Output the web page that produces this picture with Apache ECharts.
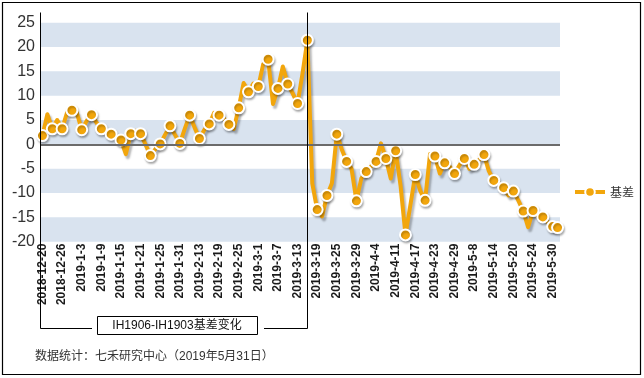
<!DOCTYPE html>
<html>
<head>
<meta charset="utf-8">
<script src="https://cdn.jsdelivr.net/npm/echarts@6/dist/echarts.min.js"></script>
<style>
html,body{margin:0;padding:0;background:#fff;}
#c{width:644px;height:378px;}
</style>
</head>
<body>
<div id="c"></div>
<script>
// Trading days (categories)
const categories = [
 '2018-12-20','2018-12-21','2018-12-24','2018-12-25','2018-12-26','2018-12-27','2018-12-28',
 '2019-1-2','2019-1-3','2019-1-4','2019-1-7','2019-1-8','2019-1-9','2019-1-10','2019-1-11','2019-1-14','2019-1-15','2019-1-16','2019-1-17','2019-1-18','2019-1-21','2019-1-22','2019-1-23','2019-1-24','2019-1-25','2019-1-28','2019-1-29','2019-1-30','2019-1-31',
 '2019-2-1','2019-2-11','2019-2-12','2019-2-13','2019-2-14','2019-2-15','2019-2-18','2019-2-19','2019-2-20','2019-2-21','2019-2-22','2019-2-25','2019-2-26','2019-2-27','2019-2-28',
 '2019-3-1','2019-3-4','2019-3-5','2019-3-6','2019-3-7','2019-3-8','2019-3-11','2019-3-12','2019-3-13','2019-3-14','2019-3-15','2019-3-18','2019-3-19','2019-3-20','2019-3-21','2019-3-22','2019-3-25','2019-3-26','2019-3-27','2019-3-28','2019-3-29',
 '2019-4-1','2019-4-2','2019-4-3','2019-4-4','2019-4-8','2019-4-9','2019-4-10','2019-4-11','2019-4-12','2019-4-15','2019-4-16','2019-4-17','2019-4-18','2019-4-19','2019-4-22','2019-4-23','2019-4-24','2019-4-25','2019-4-26','2019-4-29','2019-4-30',
 '2019-5-6','2019-5-7','2019-5-8','2019-5-9','2019-5-10','2019-5-13','2019-5-14','2019-5-15','2019-5-16','2019-5-17','2019-5-20','2019-5-21','2019-5-22','2019-5-23','2019-5-24','2019-5-27','2019-5-28','2019-5-29','2019-5-30','2019-5-31'
];
// 基差 (IH1906 - IH1903)
const basis = [
 1.8, 6.2, 3.2, 5.0, 3.2, 6.5, 7.0, 6.5, 3.0, 4.8,
 6.1, 4.5, 3.2, 2.8, 2.1, 1.5, 0.9, -2.0, 2.2, 2.8,
 2.2, 0.0, -2.3, -1.0, 0.1, 2.0, 3.8, 2.0, 0.2, 3.2,
 6.0, 3.5, 1.2, 3.0, 4.2, 6.5, 6.0, 5.3, 4.1, 3.2,
 7.5, 12.6, 10.8, 12.5, 11.9, 16.5, 17.5, 8.3, 11.5, 16.0,
 12.4, 10.5, 8.4, 14.5, 21.4, -8.0, -13.4, -14.8, -10.5, -8.0,
 2.1, -1.0, -3.5, -5.0, -11.6, -7.0, -5.6, -4.5, -3.5, 0.2,
 -2.9, -7.0, -1.3, -8.5, -18.6, -12.5, -6.2, -9.5, -11.5, -2.0,
 -2.4, -6.0, -3.8, -4.5, -6.0, -4.3, -2.9, -5.0, -4.1, -3.2,
 -2.1, -5.5, -7.4, -8.0, -8.9, -10.5, -9.6, -11.5, -13.7, -17.0,
 -13.6, -14.8, -14.9, -16.0, -16.9, -17.1
];
const seriesName = '基差';
const yTicks = { min: -20, max: 25, step: 5 };
const bracketTitle = 'IH1906-IH1903基差变化';
const sourceNote = '数据统计：七禾研究中心（2019年5月31日）';
const bracketEndDate = '2019-3-15';

const FONT = '"Liberation Sans", Arial, "Noto Sans CJK SC", sans-serif';
const ORANGE = '#f2a60c';

const chart = echarts.init(document.getElementById('c'), null, {renderer: 'canvas'});
const lastIdx = basis.length - 1;

chart.setOption({
  animation: false,
  backgroundColor: '#ffffff',
  textStyle: { fontFamily: FONT },
  grid: { left: 40, right: 84, top: 22.7, bottom: 136.3, containLabel: false },
  legend: {
    data: [seriesName],
    left: 568, top: 181,
    itemWidth: 30, itemHeight: 12, itemGap: 8,
    lineStyle: { width: 4, color: ORANGE },
    itemStyle: { color: ORANGE, borderColor: '#fff', borderWidth: 2 },
    textStyle: { fontSize: 12, color: '#333', fontFamily: '"Noto Sans CJK SC", sans-serif' }
  },
  xAxis: {
    type: 'category',
    data: categories,
    boundaryGap: true,
    axisLine: { show: false },
    axisTick: { show: false },
    axisLabel: {
      interval: 3, rotate: 90, margin: 2,
      fontSize: 12, fontWeight: 'bold', color: '#1a1a1a', fontFamily: FONT
    },
    splitLine: { show: false }
  },
  yAxis: {
    type: 'value',
    min: yTicks.min, max: yTicks.max, interval: yTicks.step,
    axisLine: { show: true, lineStyle: { color: '#000', width: 1 } },
    axisTick: { show: false },
    axisLabel: { fontSize: 16, color: '#333', margin: 5, fontFamily: FONT },
    splitLine: { show: false },
    splitArea: { show: true, areaStyle: { color: ['#d9e3ef', 'rgba(255,255,255,0)'] } }
  },
  series: [
    {
      name: '_zero', type: 'line', data: [], z: 1, silent: true,
      markLine: {
        silent: true, symbol: 'none', label: { show: false },
        lineStyle: { color: '#6b6b6b', width: 2, type: 'solid' },
        data: [{ yAxis: 0 }]
      }
    },
    {
      name: seriesName, type: 'line', data: basis, z: 3,
      showAllSymbol: true,
      symbol: 'circle',
      symbolSize: function (v, p) { return (p.dataIndex % 2 === 0 || p.dataIndex === lastIdx) ? 11 : 0; },
      lineStyle: { color: ORANGE, width: 4, shadowColor: 'rgba(0,0,0,0.28)', shadowBlur: 2, shadowOffsetX: 2, shadowOffsetY: 3, join: 'round' },
      itemStyle: { color: ORANGE, borderColor: '#fff', borderWidth: 2, shadowColor: 'rgba(0,0,0,0.25)', shadowBlur: 2, shadowOffsetX: 1, shadowOffsetY: 2 },
      emphasis: { disabled: true }
    }
  ]
});

// annotation bracket placed via the axis scale
const xEnd = Math.round(chart.convertToPixel({ xAxisIndex: 0 }, bracketEndDate)) + 0.5;
const xStart = 40.5;
const yTop = 12.5, yBot = 328.5;
const boxL = 97, boxR = 257, boxT = 316, boxB = 334;
chart.setOption({
  graphic: [
    { type: 'rect', shape: { x: 2.5, y: 2.5, width: 638, height: 372 }, style: { fill: 'none', stroke: '#000', lineWidth: 1.2 }, z: 100 },
    { type: 'line', shape: { x1: xStart, y1: yTop, x2: xStart, y2: yBot }, style: { stroke: '#000', lineWidth: 1 }, z: 100 },
    { type: 'line', shape: { x1: xEnd, y1: yTop, x2: xEnd, y2: yBot }, style: { stroke: '#000', lineWidth: 1 }, z: 100 },
    { type: 'line', shape: { x1: xStart, y1: yBot, x2: 92, y2: yBot }, style: { stroke: '#000', lineWidth: 1 }, z: 100 },
    { type: 'line', shape: { x1: 264, y1: yBot, x2: xEnd, y2: yBot }, style: { stroke: '#000', lineWidth: 1 }, z: 100 },
    { type: 'rect', shape: { x: boxL + 0.5, y: boxT + 0.5, width: boxR - boxL, height: boxB - boxT }, style: { fill: '#fff', stroke: '#000', lineWidth: 1 }, z: 100 },
    { type: 'text', x: (boxL + boxR) / 2, y: (boxT + boxB) / 2 + 1, style: { text: bracketTitle, fontSize: 12, fill: '#111', align: 'center', verticalAlign: 'middle', fontFamily: FONT }, z: 101 },
    { type: 'text', x: 35, y: 357, style: { text: sourceNote, fontSize: 12, fill: '#333', align: 'left', verticalAlign: 'middle', fontFamily: FONT }, z: 101 }
  ]
});
</script>
</body>
</html>
